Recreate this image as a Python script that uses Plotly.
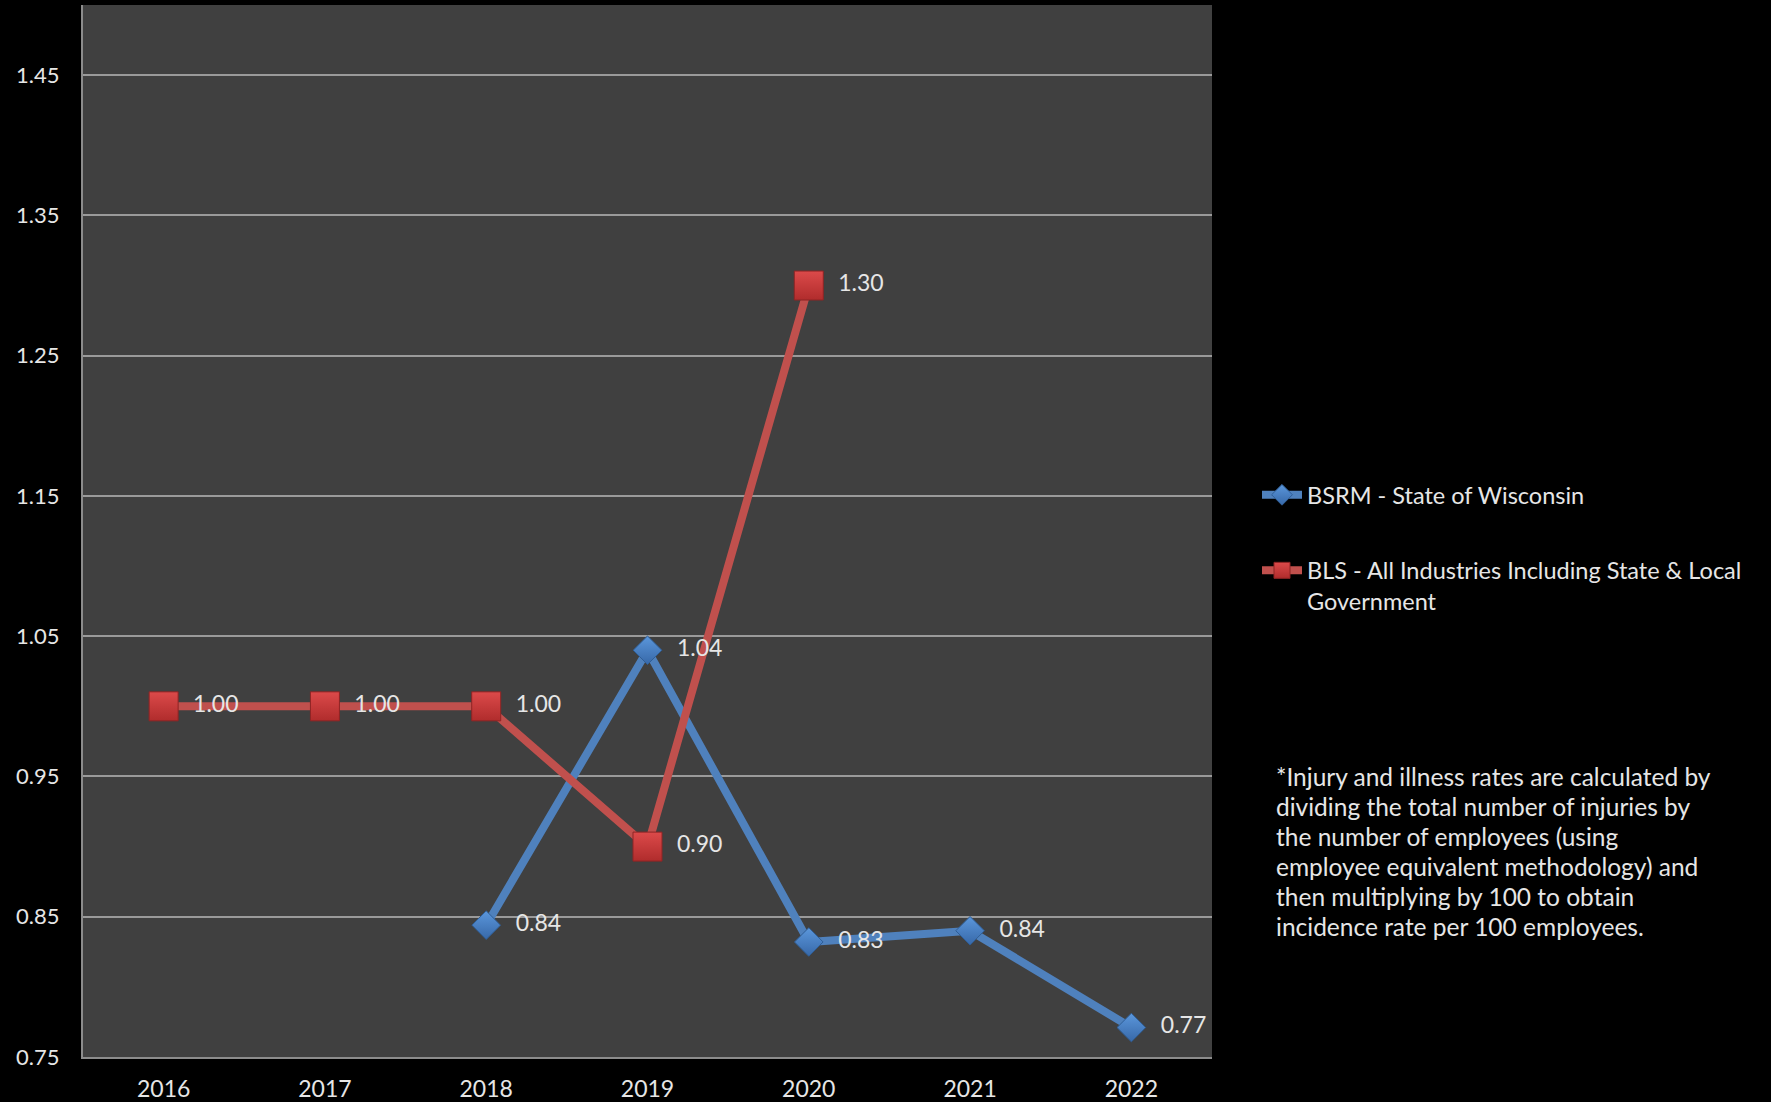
import plotly.graph_objects as go

years = ["2016", "2017", "2018", "2019", "2020", "2021", "2022"]
bsrm_name = "BSRM - State of Wisconsin"
bsrm_values = [None, None, 0.844, 1.04, 0.832, 0.84, 0.771]
bls_name = "BLS - All Industries Including State & Local<br>Government"
bls_values = [1.00, 1.00, 1.00, 0.90, 1.30, None, None]
y_ticks = [0.75, 0.85, 0.95, 1.05, 1.15, 1.25, 1.35, 1.45]
note_lines = [
    "*Injury and illness rates are calculated by",
    "dividing the total number of injuries by",
    "the number of employees (using",
    "employee equivalent methodology) and",
    "then multiplying by 100 to obtain",
    "incidence rate per 100 employees.",
]

FONT = "Lato, 'Open Sans', sans-serif"
TXT = "#E6E6E6"

fig = go.Figure()
fig.add_trace(go.Scatter(
    x=years, y=bsrm_values, name=bsrm_name, legendgroup="a",
    mode="lines+markers",
    line=dict(color="#4F81BD", width=8),
    marker=dict(symbol="diamond", size=22, color="#5B97DC",
                gradient=dict(type="vertical", color="#3768A8"),
                line=dict(color="#2F5E96", width=1)),
    connectgaps=False,
))
fig.add_trace(go.Scatter(
    x=years, y=bls_values, name=bls_name, legendgroup="b",
    mode="lines+markers",
    line=dict(color="#C0504D", width=8),
    marker=dict(symbol="square", size=29, color="#DC4A4A",
                gradient=dict(type="vertical", color="#B02C2C"),
                line=dict(color="#8E2424", width=1)),
    connectgaps=False,
))
# data labels drawn on top of both lines
for vals in (bsrm_values, bls_values):
    fig.add_trace(go.Scatter(
        x=years, y=vals, mode="text", showlegend=False, hoverinfo="skip",
        texttemplate="     %{y:.2f}", textposition="middle right",
        textfont=dict(family=FONT, size=23, color=TXT),
    ))

L, R, T, B = 83, 1212, 5, 1057
W, H = 1771, 1102
pw, ph = R - L, B - T

for i, line in enumerate(note_lines):
    ypix = 776 + i * 30
    fig.add_annotation(
        text=line, xref="paper", yref="paper",
        x=(1274 - L) / pw, y=(B - ypix) / ph,
        xanchor="left", yanchor="middle", showarrow=False, align="left",
        font=dict(family=FONT, size=24.5, color=TXT),
    )

fig.update_layout(
    width=W, height=H,
    margin=dict(l=L, r=W - R, t=T, b=H - B, pad=0, autoexpand=False),
    paper_bgcolor="black", plot_bgcolor="#404040",
    font=dict(family=FONT, color=TXT),
    showlegend=True,
    legend=dict(
        x=(1257 - L) / pw, xanchor="left",
        y=(B - 473) / ph, yanchor="top",
        bgcolor="rgba(0,0,0,0)",
        font=dict(family=FONT, size=23.5, color=TXT),
        tracegroupgap=42, valign="top", traceorder="grouped",
        itemwidth=40,
    ),
    xaxis=dict(
        type="category", range=[-0.5, 6.5], automargin=False,
        showgrid=False, showline=True, linecolor="#8C8C8C", linewidth=2,
        ticks="", tickfont=dict(family=FONT, size=23, color=TXT),
        ticklabelstandoff=10, zeroline=False,
    ),
    yaxis=dict(
        range=[0.75, 1.5], tickvals=y_ticks, automargin=False,
        ticktext=[f"{v:.2f}" for v in y_ticks],
        showgrid=True, gridcolor="#9A9A9A", gridwidth=2,
        showline=True, linecolor="#8C8C8C", linewidth=2,
        ticks="", tickfont=dict(family=FONT, size=22, color=TXT),
        ticklabelstandoff=17, zeroline=False,
    ),
)

fig.write_html(
    "out.html",
    config={"displayModeBar": False},
    post_script="document.body.style.margin='0';document.body.style.overflow='hidden';",
)
